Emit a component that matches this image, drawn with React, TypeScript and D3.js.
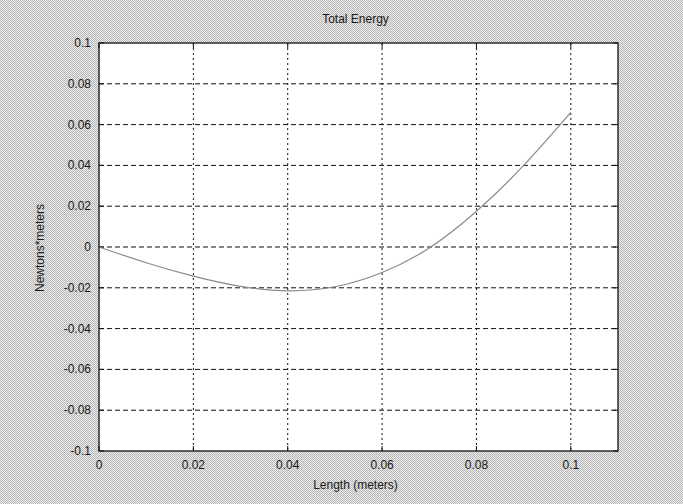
import React from "react";
import * as d3 from "d3";

// Sampled total energy along the beam
const lengths = [0, 0.01, 0.02, 0.03, 0.04, 0.05, 0.06, 0.07, 0.08, 0.09, 0.1];
const energies = [
  0, -0.0077, -0.0143, -0.0193, -0.0215, -0.0195, -0.0125, -0.0005, 0.0175,
  0.04, 0.066,
];

const xTicks = [0, 0.02, 0.04, 0.06, 0.08, 0.1];
const xTickLabels = ["0", "0.02", "0.04", "0.06", "0.08", "0.1"];
const yTicks = [-0.1, -0.08, -0.06, -0.04, -0.02, 0, 0.02, 0.04, 0.06, 0.08, 0.1];
const yTickLabels = ["-0.1", "-0.08", "-0.06", "-0.04", "-0.02", "0", "0.02", "0.04", "0.06", "0.08", "0.1"];

const titleText = "Total Energy";
const xLabelText = "Length (meters)";
const yLabelText = "Newtons*meters";

const W = 683;
const H = 504;
const box = { left: 99, right: 618, top: 43, bottom: 451 };

export default function App() {
  const x = d3.scaleLinear().domain([0, 0.11]).range([box.left, box.right]);
  const y = d3.scaleLinear().domain([-0.1, 0.1]).range([box.bottom, box.top]);

  const line = d3
    .line<number>()
    .x((_, i) => x(lengths[i]))
    .y((d) => y(d))
    .curve(d3.curveNatural);

  const font = "'Liberation Sans', Arial, sans-serif";
  const textColor = "#1a1a1a";
  const cx = (box.left + box.right) / 2;

  return (
    <svg
      width={W}
      height={H}
      style={{ position: "absolute", left: 0, top: 0 }}
      fontFamily={font}
    >
      <defs>
        <pattern id="halftone" width="2" height="2" patternUnits="userSpaceOnUse">
          <rect width="2" height="2" fill="#ececec" />
          <rect x="0" y="0" width="1" height="1" fill="#b6b6b6" />
          <rect x="1" y="1" width="1" height="1" fill="#b6b6b6" />
        </pattern>
      </defs>
      <rect width={W} height={H} fill="url(#halftone)" />

      {/* plot area */}
      <rect
        x={box.left}
        y={box.top}
        width={box.right - box.left}
        height={box.bottom - box.top}
        fill="#fff"
      />

      {/* grid */}
      {yTicks
        .filter((t) => t > -0.1 && t < 0.1)
        .map((t) => (
          <line
            key={"gy" + t}
            x1={box.left}
            x2={box.right}
            y1={y(t)}
            y2={y(t)}
            stroke="#111"
            strokeWidth={1}
            strokeDasharray="5,3"
          />
        ))}
      {xTicks
        .filter((t) => t > 0)
        .map((t) => (
          <line
            key={"gx" + t}
            x1={x(t)}
            x2={x(t)}
            y1={box.top}
            y2={box.bottom}
            stroke="#111"
            strokeWidth={1}
            strokeDasharray="2,3"
          />
        ))}

      {/* ticks */}
      {xTicks.map((t) => (
        <g key={"tx" + t}>
          <line x1={x(t)} x2={x(t)} y1={box.bottom} y2={box.bottom - 5} stroke="#111" />
          <line x1={x(t)} x2={x(t)} y1={box.top} y2={box.top + 5} stroke="#111" />
        </g>
      ))}
      {yTicks.map((t) => (
        <g key={"ty" + t}>
          <line x1={box.left} x2={box.left + 5} y1={y(t)} y2={y(t)} stroke="#111" />
          <line x1={box.right} x2={box.right - 5} y1={y(t)} y2={y(t)} stroke="#111" />
        </g>
      ))}

      {/* energy curve */}
      <path d={line(energies) ?? ""} fill="none" stroke="#8a8a8a" strokeWidth={1.2} />

      {/* frame */}
      <rect
        x={box.left}
        y={box.top}
        width={box.right - box.left}
        height={box.bottom - box.top}
        fill="none"
        stroke="#111"
        strokeWidth={1.3}
      />

      {/* tick labels */}
      {xTicks.map((t, i) => (
        <text
          key={"lx" + t}
          x={x(t)}
          y={box.bottom + 18}
          textAnchor="middle"
          fontSize={12}
          fill={textColor}
        >
          {xTickLabels[i]}
        </text>
      ))}
      {yTicks.map((t, i) => (
        <text
          key={"ly" + t}
          x={box.left - 8}
          y={y(t) + 4}
          textAnchor="end"
          fontSize={12}
          fill={textColor}
        >
          {yTickLabels[i]}
        </text>
      ))}

      {/* titles */}
      <text x={cx - 3} y={23} textAnchor="middle" fontSize={12} fill={textColor}>
        {titleText}
      </text>
      <text x={cx - 3} y={489} textAnchor="middle" fontSize={12} fill={textColor}>
        {xLabelText}
      </text>
      <text
        transform={`translate(44, 248) rotate(-90)`}
        textAnchor="middle"
        fontSize={12}
        fill={textColor}
      >
        {yLabelText}
      </text>
    </svg>
  );
}
